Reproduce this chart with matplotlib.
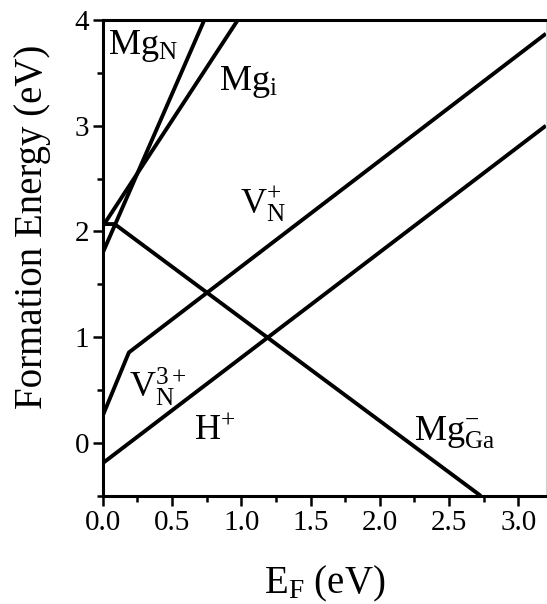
import matplotlib
matplotlib.use("Agg")
import matplotlib.pyplot as plt
import numpy as np

plt.rcParams['font.family'] = ['Liberation Serif', 'DejaVu Serif']
plt.rcParams['mathtext.fontset'] = 'custom'
plt.rcParams['mathtext.rm'] = 'Liberation Serif'
plt.rcParams['mathtext.it'] = 'Liberation Serif'

# Data (Fermi level in eV, formation energy in eV)
mgN_x = [0.0, 0.733]
mgN_y = [1.80, 4.00]
mgI_x = [0.0, 0.975]
mgI_y = [2.05, 4.00]
vN_x = [0.0, 0.188, 3.2]
vN_y = [0.26, 0.856, 3.87]
h_x = [0.0, 3.2]
h_y = [-0.19, 3.00]
mgGa_x = [0.0, 0.085, 2.73]
mgGa_y = [2.07, 2.07, -0.50]

labels = [r'Mg$_\mathregular{N}$', r'Mg$_\mathregular{i}$', r'V$_\mathregular{N}^\mathregular{+}$',
          r'V$_\mathregular{N}^\mathregular{3+}$', r'H$^\mathregular{+}$', r'Mg$_\mathregular{Ga}^\mathregular{-}$']
label_pos = [(0.035, 3.68), (0.84, 3.34), (0.99, 2.17), (0.19, 0.43), (0.66, 0.03), (2.25, 0.02)]

fig = plt.figure(figsize=(5.47, 6.04), dpi=100)
ax = fig.add_axes([0.188, 0.179, 0.81, 0.788])

for xs, ys in [(mgN_x, mgN_y), (mgI_x, mgI_y), (vN_x, vN_y), (h_x, h_y), (mgGa_x, mgGa_y)]:
    ax.plot(xs, ys, color='black', lw=2.8, solid_capstyle='butt', clip_on=True)

for t, (x, y) in zip(labels, label_pos):
    ax.text(x, y, t, fontsize=26, color='black', ha='left', va='baseline')

ax.set_xlim(0, 3.2)
ax.set_ylim(-0.5, 4.0)
ax.set_xticks(np.arange(0, 3.01, 0.5))
ax.set_xticklabels(['0.0', '0.5', '1.0', '1.5', '2.0', '2.5', '3.0'])
ax.set_xticks(np.arange(0.25, 3.2, 0.5), minor=True)
ax.set_yticks([0, 1, 2, 3, 4])
ax.set_yticks([-0.5, 0.5, 1.5, 2.5, 3.5], minor=True)
ax.tick_params(which='both', direction='out', width=1.8, labelsize=21, pad=3)
ax.tick_params(which='major', length=7)
ax.tick_params(which='minor', length=4)

for s in ['left', 'bottom', 'top']:
    ax.spines[s].set_linewidth(2.2)
ax.spines['right'].set_linewidth(0.8)
ax.spines['right'].set_color('#d0d0d0')

ax.set_xlabel(r'E$_\mathregular{F}$ (eV)', fontsize=28, labelpad=20)
ax.set_ylabel('Formation Energy (eV)', fontsize=28)
ax.yaxis.set_label_coords(-0.118, 0.565)

fig.savefig('out.png', dpi=100)
